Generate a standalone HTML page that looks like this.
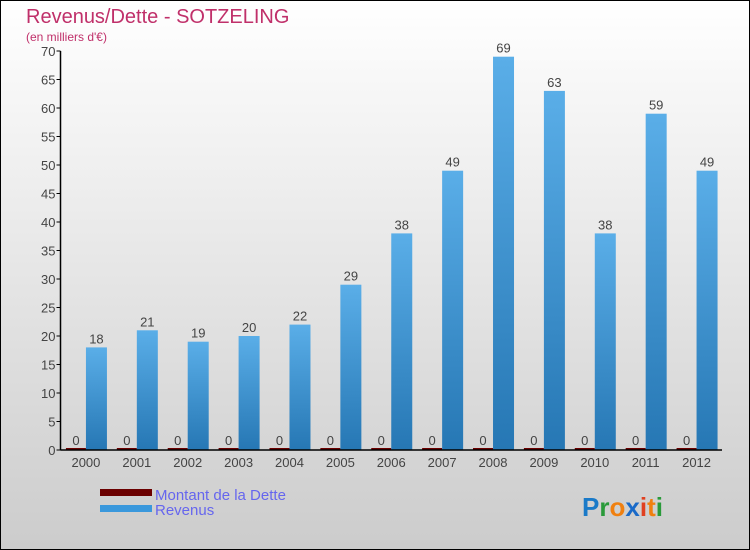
<!DOCTYPE html>
<html><head><meta charset="utf-8"><style>
body{margin:0;width:750px;height:550px;overflow:hidden;font-family:"Liberation Sans",sans-serif}
#c{position:absolute;left:0;top:0;width:748px;height:548px;border:1px solid #000;background:linear-gradient(#fff,#ccc)}
</style></head><body>
<div id="c">
<svg id="s" width="750" height="550" style="position:absolute;left:-1px;top:-1px">
<defs><linearGradient id="bg" x1="0" y1="0" x2="0" y2="1"><stop offset="0" stop-color="#5aaee8"/><stop offset="1" stop-color="#2677b4"/></linearGradient></defs>
<text x="26" y="23" font-size="20" fill="#c0306a">Revenus/Dette - SOTZELING</text>
<text x="26" y="41" font-size="12" fill="#c0306a">(en milliers d'€)</text>
<g id="plot"></g>
<rect x="100" y="489" width="52" height="7" fill="#6b0000"/>
<rect x="100" y="505" width="52" height="7" fill="#3a98dc"/>
<text x="155" y="500" font-size="15" fill="#6666ee">Montant de la Dette</text>
<text x="155" y="515" font-size="15" fill="#6666ee">Revenus</text>
<text x="582" y="516" font-size="26" font-weight="bold"><tspan fill="#1a7ac8">P</tspan><tspan fill="#2a9a3a">r</tspan><tspan fill="#f08010">o</tspan><tspan fill="#1a6ac8">x</tspan><tspan fill="#e04020">i</tspan><tspan fill="#f08010">t</tspan><tspan fill="#2a9a3a">i</tspan></text>
</svg></div>
<script>
const years=["2000","2001","2002","2003","2004","2005","2006","2007","2008","2009","2010","2011","2012"];
const dette=[0,0,0,0,0,0,0,0,0,0,0,0,0];
const revenus=[18,21,19,20,22,29,38,49,69,63,38,59,49];
const yTicks=[0,5,10,15,20,25,30,35,40,45,50,55,60,65,70];
const NS="http://www.w3.org/2000/svg";
const g=document.getElementById('plot');
const x0=60.5,x1=722,gw=(x1-x0)/years.length;
const y=v=>450-v*(399/70);
function mk(t,a,txt){const e=document.createElementNS(NS,t);for(const k in a)e.setAttribute(k,a[k]);if(txt!==undefined)e.textContent=txt;g.appendChild(e);return e;}
yTicks.forEach(t=>{
 const e=mk('line',{x1:x0-4,x2:x0,y1:y(t),y2:y(t),stroke:'#000'});
 
 
 const l=mk('text',{x:x0-5,y:y(t)+5,'font-size':13,fill:'#444','text-anchor':'end'},t);
 
 
});
years.forEach((yr,i)=>{
 const c=x0+gw*(i+0.5);
 const d=mk('rect',{x:c-20,y:y(dette[i])-2,width:20,height:Math.max(2,450-y(dette[i])),fill:'#6b0000'});
 
 
 const dl=mk('text',{x:c-10,y:y(dette[i])-5,'font-size':13,fill:'#444','text-anchor':'middle'},dette[i]);
 
 
 const r=mk('rect',{x:c,y:y(revenus[i]),width:21,height:450-y(revenus[i]),fill:'url(#bg)'});
 
 
 const rl=mk('text',{x:c+10.5,y:y(revenus[i])-4,'font-size':13,fill:'#444','text-anchor':'middle'},revenus[i]);
 
 
 const xl=mk('text',{x:c,y:467,'font-size':13,fill:'#444','text-anchor':'middle'},yr);
 
 
});
const ya=mk('line',{x1:x0,x2:x0,y1:y(70),y2:450,stroke:'#000','stroke-width':1.5});


const xa=mk('line',{x1:x0,x2:x1,y1:450,y2:450,stroke:'#000','stroke-width':1.5});


</script>
</body></html>
